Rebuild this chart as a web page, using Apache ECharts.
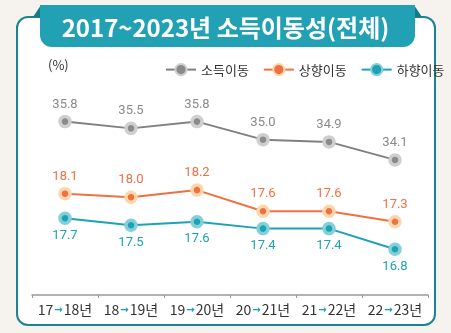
<!DOCTYPE html>
<html>
<head>
<meta charset="utf-8">
<script src="https://cdn.jsdelivr.net/npm/echarts@6/dist/echarts.min.js"></script>
<style>
html,body{margin:0;padding:0;background:#f6f3ee;}
#c{width:451px;height:333px;}
</style>
</head>
<body>
<div id="c"></div>
<script>
var titleText = '2017~2023년 소득이동성(전체)';
var unitLabel = '(%)';
var categories = ['17→18년', '18→19년', '19→20년', '20→21년', '21→22년', '22→23년'];
var seriesNames = ['소득이동', '상향이동', '하향이동'];
var totalMobility = [35.8, 35.5, 35.8, 35.0, 34.9, 34.1];
var upwardMobility = [18.1, 18.0, 18.2, 17.6, 17.6, 17.3];
var downwardMobility = [17.7, 17.5, 17.6, 17.4, 17.4, 16.8];

var FONT = '"Noto Sans CJK KR", "Noto Sans", sans-serif';
var NUMFONT = 'Roboto, "Noto Sans", sans-serif';

var chart = echarts.init(document.getElementById('c'), null, {renderer: 'canvas'});

function mkSeries(name, data, yIdx, color, ring, lineColor, labelPos) {
  return {
    name: name,
    type: 'line',
    yAxisIndex: yIdx,
    data: data,
    symbol: 'circle',
    symbolSize: 10,
    z: 5,
    lineStyle: {color: lineColor, width: 2},
    itemStyle: {color: color, borderColor: ring, borderWidth: 3.5},
    label: {
      show: true,
      position: labelPos,
      distance: 4,
      color: color,
      fontFamily: NUMFONT,
      fontSize: 13,
      formatter: function (p) { return p.value.toFixed(1); }
    },
    emphasis: {disabled: true}
  };
}

chart.setOption({
  animation: false,
  backgroundColor: '#f6f3ee',
  title: {
    text: titleText,
    left: 'center',
    top: 11,
    textStyle: {color: '#ffffff', fontFamily: FONT, fontWeight: 'bold', fontSize: 24}
  },
  graphic: [
    {type: 'rect', z: -10, shape: {x: 17, y: 17, width: 418, height: 308, r: 11},
      style: {fill: '#ffffff', stroke: '#1b8395', lineWidth: 2}},
    {type: 'polygon', z: -9, shape: {points: [[33, 17], [41, 5], [41, 17]]}, style: {fill: '#147a8a'}},
    {type: 'polygon', z: -9, shape: {points: [[422, 17], [414, 5], [414, 17]]}, style: {fill: '#147a8a'}},
    {type: 'rect', z: -8, shape: {x: 40, y: 5, width: 375, height: 42, r: [0, 0, 12, 12]},
      style: {fill: '#22a1b4'}},
    {type: 'text', z: 10, left: 48, top: 59,
      style: {text: unitLabel, fill: '#333333', font: '13px ' + FONT}}
  ],
  legend: {
    top: 58,
    left: 160,
    itemWidth: 30,
    itemHeight: 14,
    itemGap: 14,
    selectedMode: false,
    textStyle: {color: '#333333', fontFamily: FONT, fontSize: 13},
    data: seriesNames
  },
  grid: {left: 32, right: 23, top: 100, bottom: 38},
  xAxis: {
    type: 'category',
    data: categories,
    boundaryGap: true,
    axisLine: {lineStyle: {color: '#999999', width: 1.5}},
    axisTick: {show: true, length: 3, interval: 0, lineStyle: {color: '#999999'}},
    axisLabel: {
      interval: 0,
      margin: 8,
      formatter: function (v) {
        var parts = v.split('→');
        return '{a|' + parts[0] + '}{b|→}{a|' + parts[1] + '}';
      },
      rich: {
        a: {color: '#333333', fontFamily: FONT, fontSize: 14},
        b: {color: '#1a9fb0', fontFamily: 'DejaVu Sans', fontSize: 10, fontWeight: 'bold', padding: [0, 1, 0, 1]}
      }
    }
  },
  yAxis: [
    {type: 'value', min: 28.1, max: 36.76, show: false, splitLine: {show: false}},
    {type: 'value', min: 15.22, max: 20.76, show: false, splitLine: {show: false}},
    {type: 'value', min: 15.47, max: 21.14, show: false, splitLine: {show: false}}
  ],
  series: [
    mkSeries(seriesNames[0], totalMobility, 0, '#8a8a8a', '#cfcfcf', '#808080', 'top'),
    mkSeries(seriesNames[1], upwardMobility, 1, '#f07040', '#fcd7ae', '#f07040', 'top'),
    mkSeries(seriesNames[2], downwardMobility, 2, '#1ba3b5', '#84cfd8', '#1ba3b5', 'bottom')
  ]
});
</script>
</body>
</html>
